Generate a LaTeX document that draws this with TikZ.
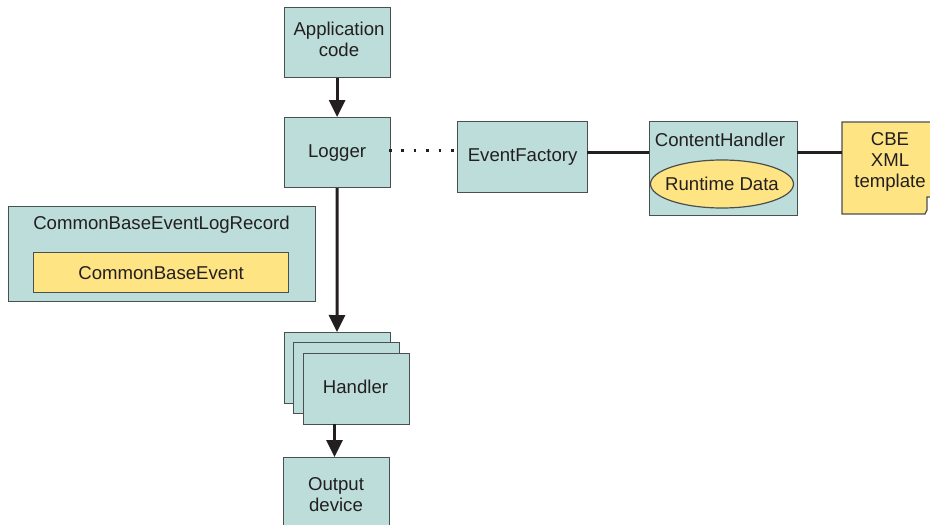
\documentclass[tikz,border=0pt]{standalone}
\usepackage{fontspec}
\setmainfont{Liberation Sans}
\usetikzlibrary{arrows.meta}
\definecolor{teal}{HTML}{BCDDD9}
\definecolor{sand}{HTML}{FFE484}
\definecolor{edge}{HTML}{4A4F50}
\definecolor{ink}{HTML}{231F20}
\tikzset{
  x=1pt,y=-1pt,
  every node/.style={font=\fontsize{18.6}{21}\selectfont,text=ink},
  box/.style={draw=edge,line width=1.2pt,fill=teal,inner sep=0pt,align=center,minimum width=#1},
  box/.default=106pt,
  yellowbox/.style={draw=edge,line width=1.2pt,fill=sand,inner sep=0pt,align=center},
  flow/.style={draw=ink,line width=3pt,-{Triangle[length=17pt,width=16pt]}},
  link/.style={draw=ink,line width=3pt},
  dots/.style={draw=ink,line width=2.6pt,dash pattern=on 2.6pt off 9.8pt}
}
\begin{document}
\begin{tikzpicture}
\useasboundingbox (0,0) rectangle (930,525);
\node[box,minimum height=70pt,anchor=north west] (app) at (283.5,7) {};
\node (applabel) at (339,39.5) [align=center] {Application\\code};
\node[box,minimum height=70pt,anchor=north west] (logger) at (283.5,117) {Logger};
\node[box=130pt,minimum height=71pt,anchor=north west] (factory) at (457,121) {EventFactory};
\node[box=148pt,minimum height=94pt,anchor=north west] (content) at (649,121) {};
\node (contentlabel) at (720,140) {ContentHandler};
\path[draw=edge,line width=1.2pt,fill=sand] (722,184) ellipse [x radius=71.5,y radius=24];
\node (runtime) at (722,184) {Runtime Data};
\path[yellowbox] (842,122) -- (935,122) -- (935,197) -- (927,197) -- (927,210) -- (925,214) -- (842,214) -- cycle;
\coordinate (cbeleft) at (842,152);
\node[align=center] (cbe) at (890,161.5) {CBE\\XML\\template};
\node[box=307pt,minimum height=95pt,anchor=north west] (record) at (8,206) {};
\node (recordlabel) at (161.5,225) {CommonBaseEventLogRecord};
\node[yellowbox,minimum width=255pt,minimum height=40pt,anchor=north west] (event) at (33,252) {CommonBaseEvent};
\node[box,minimum height=71pt,anchor=north west] (h1) at (284,332) {};
\node[box,minimum height=71pt,anchor=north west] (h2) at (293,342) {};
\node[box,minimum height=71pt,anchor=north west] (handler) at (302.5,352.5) {};
\node (handlerlabel) at (355.5,386.5) {Handler};
\node[box,minimum height=70pt,anchor=north west] (output) at (283,457) {};
\node[align=center] (outputlabel) at (336,495) {Output\\device};
\draw[flow] (app) -- (logger);
\coordinate (h1top) at (337,332);
\draw[flow] (logger.south) -- (h1top);
\coordinate (outtop) at (334.5,457);
\coordinate (handlerbottom) at (334.5,423.5);
\draw[flow] (handlerbottom) -- (outtop);
\coordinate (dotstart) at (389,150.5);
\coordinate (dotend) at (457,150.5);
\draw[dots] (dotstart) -- (dotend);
\coordinate (fr) at (587,152);
\coordinate (cl) at (649,152);
\draw[link] (fr) -- (cl);
\coordinate (cr) at (797,152);
\draw[link] (cr) -- (cbeleft);
\end{tikzpicture}
\end{document}
